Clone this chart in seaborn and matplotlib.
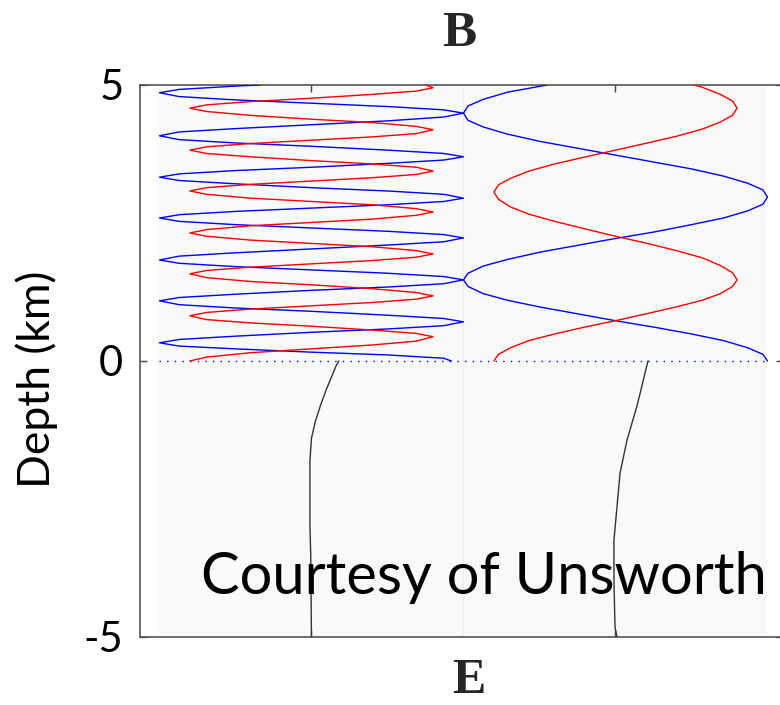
import matplotlib
matplotlib.use("Agg")
import matplotlib.pyplot as plt
import seaborn as sns
import pandas as pd

# ---------------- data ----------------
# Left panel (high frequency): depth above ground (km) and field value
lb_depth = [0, 0.05, 0.11, 0.16, 0.22, 0.27, 0.33,
            0.39, 0.45, 0.52, 0.58, 0.64, 0.71,
            0.77, 0.83, 0.90, 0.96, 1.02, 1.09,
            1.15, 1.21, 1.28, 1.34, 1.40, 1.47,
            1.53, 1.59, 1.65, 1.71, 1.77, 1.83,
            1.90, 1.96, 2.03, 2.10, 2.16, 2.23,
            2.29, 2.35, 2.41, 2.47, 2.53, 2.59,
            2.65, 2.71, 2.77, 2.83, 2.89, 2.95,
            3.02, 3.08, 3.14, 3.21, 3.27, 3.33,
            3.39, 3.45, 3.51, 3.58, 3.64, 3.70,
            3.76, 3.82, 3.89, 3.95, 4.01, 4.08,
            4.15, 4.21, 4.28, 4.35, 4.42, 4.49,
            4.55, 4.61, 4.67, 4.73, 4.79, 4.86,
            4.92, 4.98, 5.0]
lb_value = [1.92, 1.87, 1.5, 1.0, 0.5, 0.13, 0.0,
            0.13, 0.5, 1.0, 1.5, 1.87, 2.0,
            1.87, 1.5, 1.0, 0.5, 0.13, 0.0,
            0.13, 0.5, 1.0, 1.5, 1.87, 2.0,
            1.87, 1.5, 1.0, 0.5, 0.13, 0.0,
            0.13, 0.5, 1.0, 1.5, 1.87, 2.0,
            1.87, 1.5, 1.0, 0.5, 0.13, 0.0,
            0.13, 0.5, 1.0, 1.5, 1.87, 2.0,
            1.87, 1.5, 1.0, 0.5, 0.13, 0.0,
            0.13, 0.5, 1.0, 1.5, 1.87, 2.0,
            1.87, 1.5, 1.0, 0.5, 0.13, 0.0,
            0.13, 0.5, 1.0, 1.5, 1.87, 2.0,
            1.87, 1.5, 1.0, 0.5, 0.13, 0.0,
            0.13, 0.5, 0.66]

lr_depth = [0, 0.07, 0.15, 0.22, 0.29, 0.36, 0.44,
            0.50, 0.56, 0.63, 0.69, 0.75, 0.82,
            0.88, 0.94, 1.00, 1.06, 1.12, 1.18,
            1.24, 1.31, 1.38, 1.44, 1.51, 1.58,
            1.64, 1.70, 1.76, 1.82, 1.88, 1.94,
            2.00, 2.07, 2.13, 2.19, 2.26, 2.32,
            2.38, 2.45, 2.51, 2.57, 2.64, 2.70,
            2.76, 2.83, 2.89, 2.95, 3.02, 3.08,
            3.14, 3.20, 3.26, 3.32, 3.38, 3.44,
            3.51, 3.57, 3.63, 3.70, 3.76, 3.82,
            3.88, 3.94, 4.00, 4.06, 4.12, 4.19,
            4.25, 4.32, 4.38, 4.45, 4.52, 4.58,
            4.64, 4.70, 4.76, 4.83, 4.89, 4.95,
            5.0]
lr_value = [0.2, 0.31, 0.6, 1.0, 1.4, 1.69, 1.8,
            1.69, 1.4, 1.0, 0.6, 0.31, 0.2,
            0.31, 0.6, 1.0, 1.4, 1.69, 1.8,
            1.69, 1.4, 1.0, 0.6, 0.31, 0.2,
            0.31, 0.6, 1.0, 1.4, 1.69, 1.8,
            1.69, 1.4, 1.0, 0.6, 0.31, 0.2,
            0.31, 0.6, 1.0, 1.4, 1.69, 1.8,
            1.69, 1.4, 1.0, 0.6, 0.31, 0.2,
            0.31, 0.6, 1.0, 1.4, 1.69, 1.8,
            1.69, 1.4, 1.0, 0.6, 0.31, 0.2,
            0.31, 0.6, 1.0, 1.4, 1.69, 1.8,
            1.69, 1.4, 1.0, 0.6, 0.31, 0.2,
            0.31, 0.6, 1.0, 1.4, 1.69, 1.8,
            1.75]

# Right panel (low frequency)
rb_depth = [0, 0.12, 0.24, 0.37, 0.49, 0.61, 0.73, 0.86, 0.98, 1.10, 1.22, 1.35, 1.47,
            1.59, 1.72, 1.84, 1.97, 2.09, 2.22, 2.34, 2.47, 2.59, 2.72, 2.84, 2.97,
            3.10, 3.22, 3.35, 3.48, 3.60, 3.73, 3.86, 3.98, 4.11, 4.24, 4.36, 4.49,
            4.62, 4.74, 4.87, 5.0]
rb_value = [4.0, 3.97, 3.87, 3.71, 3.5, 3.26, 3.0, 2.74, 2.5, 2.29, 2.13, 2.03, 2.0,
            2.03, 2.13, 2.29, 2.5, 2.74, 3.0, 3.26, 3.5, 3.71, 3.87, 3.97, 4.0,
            3.97, 3.87, 3.71, 3.5, 3.26, 3.0, 2.74, 2.5, 2.29, 2.13, 2.03, 2.0,
            2.03, 2.13, 2.29, 2.55]

rr_depth = [0, 0.12, 0.24, 0.37, 0.49, 0.61, 0.73, 0.86, 0.98, 1.10, 1.22, 1.35, 1.47,
            1.60, 1.73, 1.87, 2.00, 2.13, 2.26, 2.40, 2.53, 2.66, 2.79, 2.93, 3.06,
            3.19, 3.31, 3.44, 3.57, 3.69, 3.82, 3.95, 4.07, 4.20, 4.33, 4.45, 4.58,
            4.71, 4.83, 4.96, 5.0]
rr_value = [2.2, 2.23, 2.31, 2.43, 2.6, 2.79, 3.0, 3.21, 3.4, 3.57, 3.69, 3.77, 3.8,
            3.77, 3.69, 3.57, 3.4, 3.21, 3.0, 2.79, 2.6, 2.43, 2.31, 2.23, 2.2,
            2.23, 2.31, 2.43, 2.6, 2.79, 3.0, 3.21, 3.4, 3.57, 3.69, 3.77, 3.8,
            3.77, 3.69, 3.57, 3.52]

# Fields below ground (decaying E)
le_depth = [0, -0.1, -0.3, -0.5, -0.8, -1.1, -1.4, -1.8, -2.5, -3.0, -3.5, -5.0]
le_value = [1.18, 1.16, 1.13, 1.10, 1.06, 1.025, 1.0, 0.99, 0.99, 0.99, 0.995, 1.0]
re_depth = [0, -0.22, -0.53, -0.83, -1.43, -2.03, -2.64, -3.24, -4.0, -4.82, -5.0]
re_value = [3.214, 3.194, 3.167, 3.14, 3.076, 3.03, 3.01, 2.99, 2.99, 2.997, 3.01]

ytick_vals = [-5, 0, 5]
ytick_labels = ["-5", "0", "5"]
xtick_vals = [1, 3]
top_label = "B"
bottom_label = "E"
y_label = "Depth (km)"
credit = "Courtesy of Unsworth"

# ---------------- styling ----------------
sns.set_theme(style="white")
plt.rcParams["font.family"] = ["Lato", "DejaVu Sans"]

fig = plt.figure(figsize=(7.8, 7.05), dpi=100)
ax = fig.add_axes([140 / 780, 1 - 637 / 705, (783 - 140) / 780, 552 / 705])
ax.set_facecolor("white")

ax.axvspan(0, 4, color="#f8faf8", zorder=0, lw=0)
ax.axvline(2, color="#eceeec", lw=0.8, zorder=0.5)

def curve(d, v, color, lw=1.0):
    df = pd.DataFrame({"value": v, "depth": d})
    sns.lineplot(data=df, x="value", y="depth", sort=False, estimator=None,
                 color=color, lw=lw, ax=ax, zorder=3)

curve(lb_depth, lb_value, "#0000ff")
curve(lr_depth, lr_value, "#ff0000")
curve(rb_depth, rb_value, "#0000ff")
curve(rr_depth, rr_value, "#ff0000")
curve(le_depth, le_value, "#333333")
curve(re_depth, re_value, "#333333")

ax.hlines(0, 0, 4, colors="#0000ff", linestyles=(0, (1, 4.5)), lw=1.0, zorder=2)

ax.set_xlim(-0.128, 4.102)
ax.set_ylim(-5, 5)
ax.set_xlabel("")
ax.set_ylabel("")
ax.set_xticks(xtick_vals)
ax.set_xticklabels([])
ax.set_yticks(ytick_vals)
ax.set_yticklabels(ytick_labels)
ax.tick_params(axis="x", direction="in", length=5, width=1, color="#444444",
               top=True, bottom=True, labelbottom=False)
ax.tick_params(axis="y", direction="in", length=5, width=1, color="#444444",
               left=True, right=True, labelsize=30, pad=12, labelcolor="black")
for s in ax.spines.values():
    s.set_visible(True)
    s.set_color("#555555")
    s.set_linewidth(1.2)

fig.text(37 / 780, 1 - 379 / 705, y_label, rotation=90, ha="center", va="center",
         fontsize=32, color="black")
fig.text(484 / 780, 1 - 594 / 705, credit, ha="center", va="baseline",
         fontsize=41.7, color="black")
fig.text(459.5 / 780, 1 - 46 / 705, top_label, ha="center", va="baseline",
         fontsize=37, fontweight="bold", family=["Liberation Serif", "DejaVu Serif"])
fig.text(469 / 780, 1 - 693 / 705, bottom_label, ha="center", va="baseline",
         fontsize=36, fontweight="bold", family=["Liberation Serif", "DejaVu Serif"])

fig.savefig("out.png", dpi=100)
